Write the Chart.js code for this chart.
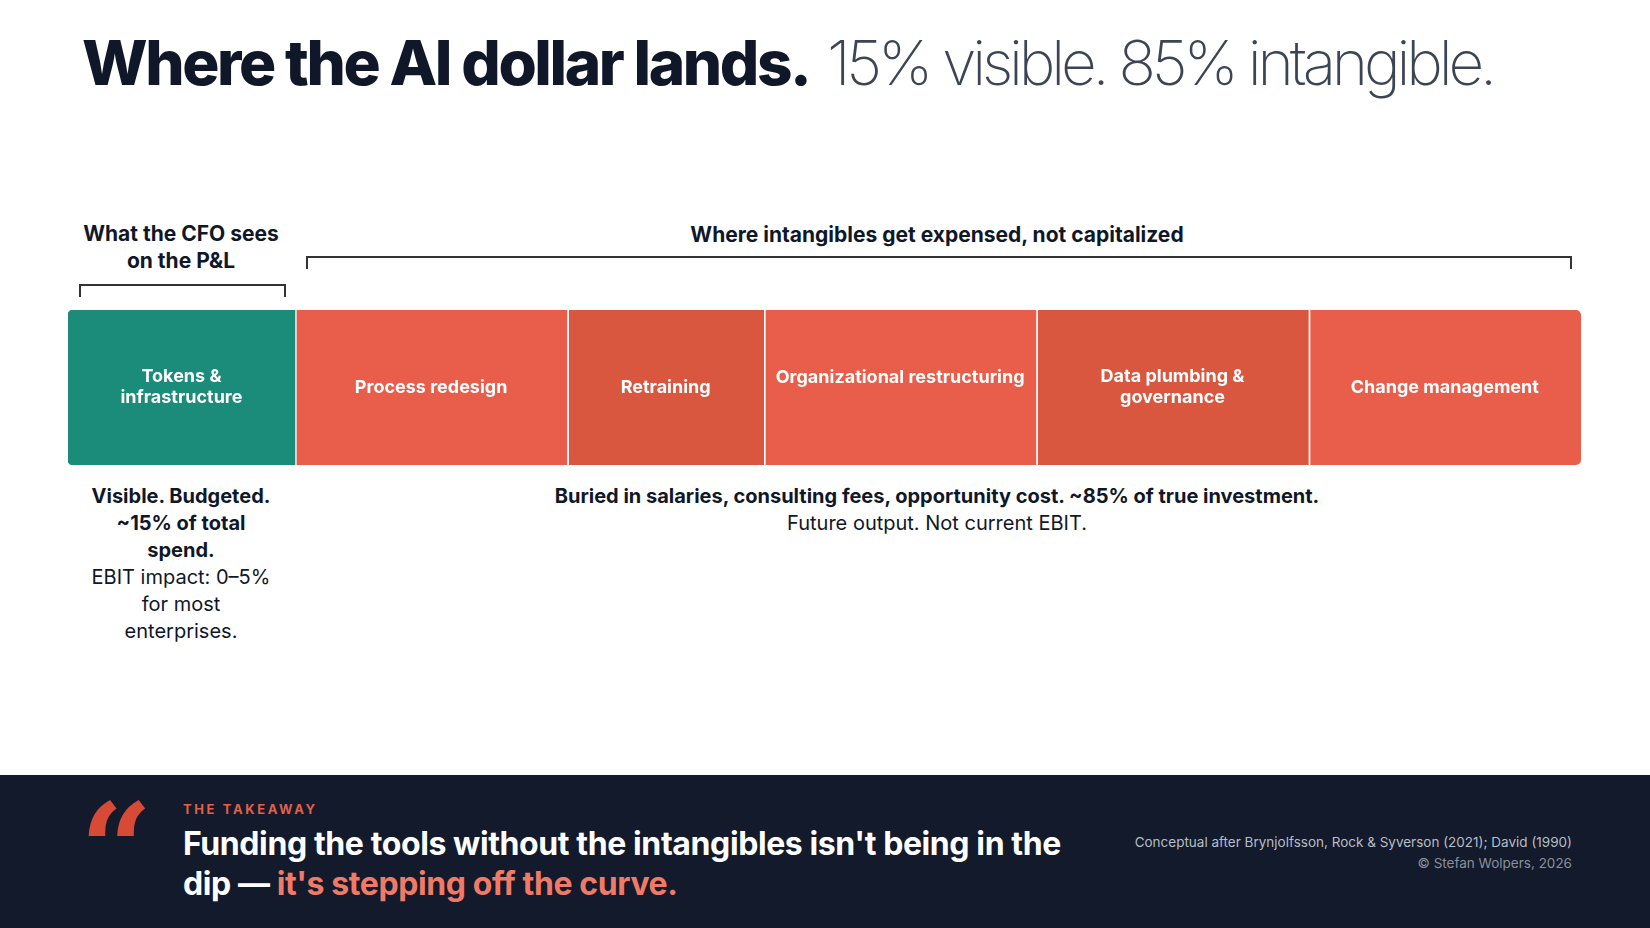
<!DOCTYPE html>
<html>
<head>
<meta charset="utf-8">
<script src="https://cdn.jsdelivr.net/npm/chart.js@4.4.1/dist/chart.umd.min.js"></script>
<style>
  html, body { margin:0; padding:0; width:1650px; height:928px; background:#fff; overflow:hidden;
    font-family: Inter, "Liberation Sans", Arial, sans-serif; color:#0f1728; }
  .abs { position:absolute; }
  #title { left:82px; top:25px; font-size:62px; white-space:nowrap; }
  #title b { font-weight:800; color:#0f1728; letter-spacing:-2.4px; }
  #title span { font-weight:200; color:#3b4556; letter-spacing:-4.2px; }
  .hdr { font-weight:700; font-size:21px; text-align:center; line-height:27px; }
  .brk { border:2px solid #333; border-bottom:none; height:11px; }
  .note { font-size:20px; text-align:center; line-height:27px; }
  #band { left:0; top:775px; width:1650px; height:153px; background:#121a2b; }
  #quote { left:80px; top:786px; font-family:"DejaVu Serif", Georgia, serif; font-size:126px; font-weight:700; color:#d64a36; line-height:1; }
  #kicker { left:183px; top:801px; font-size:13px; font-weight:700; letter-spacing:2.6px; color:#e0604c; }
  #head { left:183px; top:824px; font-size:32px; font-weight:700; color:#fff; line-height:40px; letter-spacing:-0.4px; }
  #head span { color:#f07a66; }
  #cite { right:78px; top:832px; font-size:13.5px; color:#b8bdc7; text-align:right; line-height:21px; }
  #cite div:last-child { color:#8a909c; }
</style>
</head>
<body>
<div id="title" class="abs"><b>Where the AI dollar lands.</b> <span>15% visible. 85% intangible.</span></div>

<div class="abs hdr" style="left:61px;width:240px;top:220px;">What the CFO sees<br>on the P&amp;L</div>
<div class="abs brk" style="left:79px;width:203px;top:284px;"></div>
<div class="abs hdr" style="left:437px;width:1000px;top:221px;">Where intangibles get expensed, not capitalized</div>
<div class="abs brk" style="left:306px;width:1262px;top:256px;"></div>

<div class="abs" style="left:68px;top:310px;width:1513px;height:155px;"><canvas id="bar"></canvas></div>

<div class="abs note" style="left:61px;width:240px;top:483px;"><b>Visible. Budgeted.<br>~15% of total<br>spend.</b><br>EBIT impact: 0–5%<br>for most<br>enterprises.</div>
<div class="abs note" style="left:437px;width:1000px;top:483px;"><b>Buried in salaries, consulting fees, opportunity cost. ~85% of true investment.</b><br>Future output. Not current EBIT.</div>

<div id="band" class="abs"></div>
<div id="quote" class="abs">“</div>
<div id="kicker" class="abs">THE TAKEAWAY</div>
<div id="head" class="abs">Funding the tools without the intangibles isn't being in the<br>dip — <span>it's stepping off the curve.</span></div>
<div id="cite" class="abs"><div>Conceptual after Brynjolfsson, Rock &amp; Syverson (2021); David (1990)</div><div>© Stefan Wolpers, 2026</div></div>

<script>
// segment shares of total AI spend (%)
const segments = ['Tokens & infrastructure', 'Process redesign', 'Retraining',
                  'Organizational restructuring', 'Data plumbing & governance', 'Change management'];
const shares   = [15, 18, 13, 18, 18, 18];
const segLines = [['Tokens &', 'infrastructure'], ['Process redesign'], ['Retraining'],
                  ['Organizational restructuring'], ['Data plumbing &', 'governance'], ['Change management']];
const colors   = ['#1b8b7a', '#e95d4b', '#d9573f', '#e95d4b', '#d9573f', '#e95d4b'];

const labelPlugin = {
  id: 'segLabels',
  afterDatasetsDraw(chart) {
    const ctx = chart.ctx;
    ctx.save();
    ctx.fillStyle = '#fff';
    ctx.font = '700 18px Inter, "Liberation Sans", Arial, sans-serif';
    ctx.textAlign = 'center';
    ctx.textBaseline = 'middle';
    chart.data.datasets.forEach((ds, i) => {
      const el = chart.getDatasetMeta(i).data[0];
      const cx = (el.x + el.base) / 2;
      const lines = segLines[i];
      const top = i === 3 ? el.y - 10 : el.y - (lines.length - 1) * 10.5;
      lines.forEach((t, j) => ctx.fillText(t, cx, top + j * 21));
    });
    ctx.restore();
  }
};

new Chart(document.getElementById('bar'), {
  type: 'bar',
  data: {
    labels: ['AI spend'],
    datasets: segments.map((s, i) => ({
      label: s,
      data: [shares[i]],
      backgroundColor: colors[i],
      borderColor: '#fff',
      borderWidth: i === 0 ? 0 : { left: 2 },
      borderSkipped: false,
      borderRadius: i === 0 ? { topLeft: 5, bottomLeft: 5 } : (i === 5 ? { topRight: 5, bottomRight: 5 } : 0),
      barPercentage: 1,
      categoryPercentage: 1
    }))
  },
  options: {
    indexAxis: 'y',
    responsive: true,
    maintainAspectRatio: false,
    animation: false,
    layout: { padding: 0 },
    plugins: { legend: { display: false }, tooltip: { enabled: false } },
    scales: {
      x: { stacked: true, min: 0, max: 100, display: false },
      y: { stacked: true, display: false }
    }
  },
  plugins: [labelPlugin]
});
</script>
</body>
</html>
